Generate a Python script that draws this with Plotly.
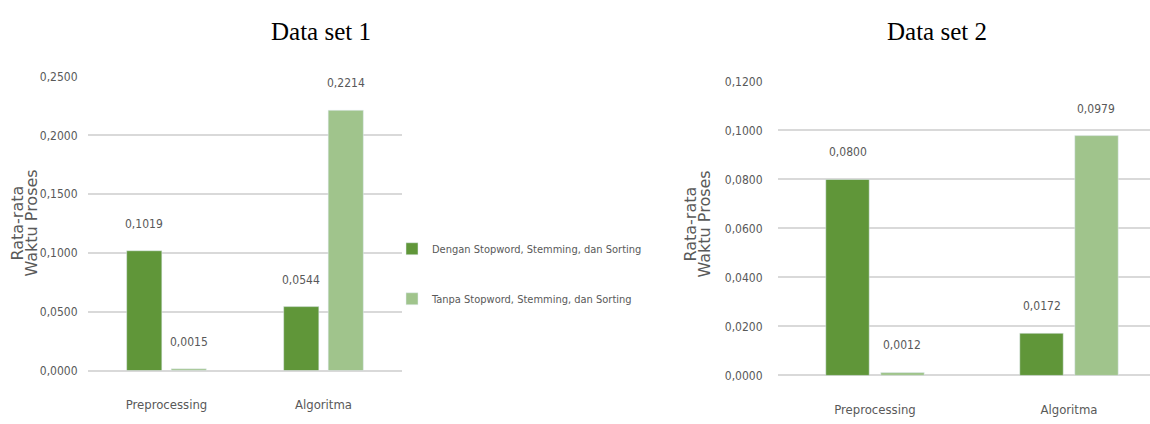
import plotly.graph_objects as go

# ---------------- data ----------------
categories = ["Preprocessing", "Algoritma"]
series_names = ["Dengan Stopword, Stemming, dan Sorting",
                "Tanpa Stopword, Stemming, dan Sorting"]
ds1_dengan = [0.1019, 0.0544]
ds1_tanpa = [0.0015, 0.2214]
ds2_dengan = [0.0800, 0.0172]
ds2_tanpa = [0.0012, 0.0979]
ds1_ticks = [0.0, 0.05, 0.10, 0.15, 0.20, 0.25]
ds2_ticks = [0.0, 0.02, 0.04, 0.06, 0.08, 0.10, 0.12]
titles = ["Data set 1", "Data set 2"]
y_title_lines = ["Rata-rata", "Waktu Proses"]

# ---------------- style ----------------
W, H = 1150, 424
DARK = "#609639"
LIGHT = "#A0C48C"
GRAY = "#595959"
GRID = "#d9d9d9"
NARROW = "Liberation Sans Narrow, DejaVu Sans Condensed, sans-serif"
SERIF = "Liberation Serif, Times New Roman, serif"
BARGAP = 0.433
BARGROUPGAP = 0.21

# pixel layout of the two plot areas
L_x0, L_x1, L_y0, L_y1 = 88, 402, 72, 376
R_x0, R_x1, R_y0, R_y1 = 778, 1150, 77, 381
R_cat_px = 194.0
R_range_hi = -0.5 + (R_x1 - R_x0) / R_cat_px


def fmt(v):
    return f"{v:.4f}".replace(".", ",")


fig = go.Figure()
colors = [DARK, LIGHT]
for k, (vals, name) in enumerate(zip([ds1_dengan, ds1_tanpa], series_names)):
    fig.add_trace(go.Bar(x=categories, y=vals, name=name, marker_color=colors[k],
                         legendgroup=f"g{k}", xaxis="x", yaxis="y",
                         hoverinfo="skip"))
for k, (vals, name) in enumerate(zip([ds2_dengan, ds2_tanpa], series_names)):
    fig.add_trace(go.Bar(x=categories, y=vals, name=name, marker_color=colors[k],
                         legendgroup=f"g{k}", showlegend=False, xaxis="x2", yaxis="y2",
                         hoverinfo="skip"))

annotations = []
# value labels above the bars
for (xr, yr, cat_px, series) in [("x", "y", (L_x1 - L_x0) / 2.0, [ds1_dengan, ds1_tanpa]),
                                  ("x2", "y2", R_cat_px, [ds2_dengan, ds2_tanpa])]:
    slot = cat_px * (1 - BARGAP) / 2.0
    for k, vals in enumerate(series):
        shift = (k - 0.5) * slot
        for cat, v in zip(categories, vals):
            annotations.append(dict(x=cat, y=v, xref=xr, yref=yr, text=fmt(v),
                                    showarrow=False, xshift=shift, yshift=27,
                                    xanchor="center", yanchor="middle",
                                    font=dict(family=NARROW, size=12, color=GRAY)))

# chart titles
for xc, t in zip([321, 937], titles):
    annotations.append(dict(x=xc / W, y=1 - 25 / H, xref="paper", yref="paper", text=t,
                            showarrow=False, xanchor="center", yanchor="middle",
                            font=dict(family=SERIF, size=25, color="#000000")))

# y-axis titles (two lines each)
for (xa, xb, yc) in [(18, 32, 224), (691, 705, 225)]:
    for xp, line in zip([xa, xb], y_title_lines):
        annotations.append(dict(x=xp / W, y=1 - yc / H, xref="paper", yref="paper",
                                text=line, textangle=-90, showarrow=False,
                                xanchor="center", yanchor="middle",
                                font=dict(family="DejaVu Sans, sans-serif", size=16, color=GRAY)))

common_x = dict(type="category", showgrid=False, zeroline=False, showline=False,
                ticks="outside", ticklen=22, tickcolor="rgba(0,0,0,0)",
                tickfont=dict(family=NARROW, size=13, color=GRAY), fixedrange=True)
common_y = dict(showgrid=True, gridcolor=GRID, gridwidth=1.5, zeroline=True,
                zerolinecolor=GRID, zerolinewidth=1.5, showline=False,
                tickformat=".4f", ticks="outside", tickcolor="rgba(0,0,0,0)",
                tickfont=dict(family=NARROW, size=12, color=GRAY), fixedrange=True)

fig.update_layout(
    width=W, height=H,
    margin=dict(l=0, r=0, t=0, b=0),
    paper_bgcolor="white", plot_bgcolor="white",
    separators=",.",
    barmode="group", bargap=BARGAP, bargroupgap=BARGROUPGAP,
    xaxis=dict(domain=[L_x0 / W, L_x1 / W], range=[-0.5, 1.5], anchor="y", **common_x),
    yaxis=dict(domain=[1 - L_y1 / H, 1 - L_y0 / H], range=[0, 0.25], tickvals=ds1_ticks,
               anchor="x", ticklen=7, **common_y),
    xaxis2=dict(domain=[R_x0 / W, R_x1 / W], range=[-0.5, R_range_hi], anchor="y2", **common_x),
    yaxis2=dict(domain=[1 - R_y1 / H, 1 - R_y0 / H], range=[0, 0.12], tickvals=ds2_ticks,
                anchor="x2", ticklen=12, **common_y),
    showlegend=True,
    legend=dict(x=392 / W, y=1 - 235 / H, xanchor="left", yanchor="top",
                font=dict(family=NARROW, size=11, color=GRAY),
                tracegroupgap=31, itemwidth=30, bgcolor="rgba(0,0,0,0)"),
    annotations=annotations,
)

fig.write_html("out.html")
